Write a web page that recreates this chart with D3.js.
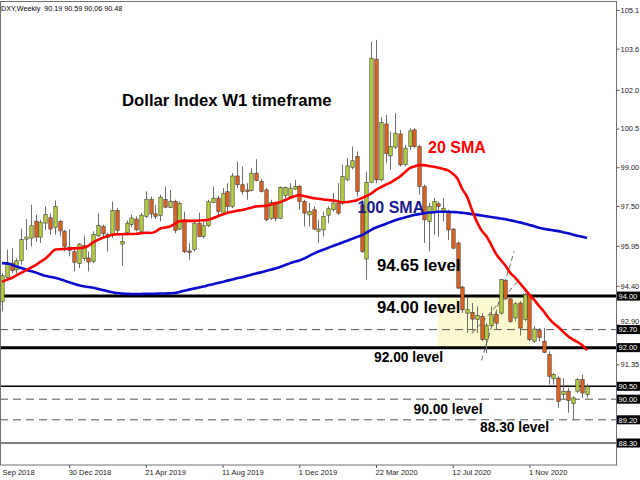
<!DOCTYPE html>
<html><head><meta charset="utf-8">
<script src="https://cdn.jsdelivr.net/npm/d3@7"></script>
<style>body{margin:0;background:#fff}svg{display:block}</style>
</head><body><svg id="c" width="640" height="480"></svg>
<script>
// ---------- DATA ----------
const opens  = [93.80,94.73,95.28,95.02,95.38,96.21,96.25,96.91,96.29,96.83,97.04,96.66,96.90,96.50,95.90,95.72,95.26,95.45,95.48,95.35,96.34,96.70,96.38,96.34,97.32,96.02,96.47,96.77,96.99,96.51,97.09,97.76,97.19,97.12,97.74,97.43,97.67,96.60,96.96,95.75,95.80,96.83,96.31,96.73,97.63,97.80,97.22,98.05,97.48,98.66,98.32,98.12,98.10,98.77,98.45,98.12,97.02,97.61,97.02,97.90,97.87,98.15,98.25,97.67,97.15,97.35,96.52,96.57,97.14,97.35,97.61,97.61,98.51,99.00,99.42,97.54,95.44,98.41,103.19,98.51,100.68,99.44,99.78,100.29,99.10,99.80,100.45,99.80,98.25,96.90,97.25,97.58,97.28,97.24,96.60,96.06,94.35,93.34,93.37,93.09,93.21,92.31,92.85,93.28,93.34,94.61,93.89,93.15,93.73,93.09,94.05,92.25,92.66,92.25,91.73,90.79,90.82,90.18,90.31,89.83,90.31,90.76,90.19];
const highs  = [94.89,95.80,95.85,95.47,96.62,96.99,97.54,97.16,96.96,97.48,97.22,97.71,96.96,96.57,96.60,95.80,96.06,96.34,95.73,96.51,97.22,96.77,96.44,97.67,97.41,96.38,96.93,97.16,97.09,97.22,98.06,97.86,97.54,97.93,98.25,98.12,97.74,97.67,97.28,96.05,96.90,97.24,96.90,97.74,98.25,97.89,98.19,98.38,98.77,99.22,99.03,98.38,98.96,99.31,98.54,98.19,97.74,97.67,98.25,98.25,98.38,98.51,98.32,97.74,97.61,97.48,96.96,97.28,97.48,98.00,98.38,99.09,99.35,99.80,99.61,97.74,98.83,103.87,103.94,100.94,101.03,100.38,101.10,100.45,99.87,100.51,100.51,99.87,98.32,97.61,97.80,97.67,97.80,97.35,96.64,96.12,94.40,93.92,93.73,93.60,93.34,92.96,93.60,93.40,94.66,94.66,93.92,93.76,93.80,94.12,94.12,92.83,92.76,92.76,91.86,91.02,90.89,90.82,90.44,90.11,90.82,90.95,90.59];
const lows   = [93.41,94.63,94.89,94.87,95.22,95.80,95.93,96.12,96.06,96.57,96.38,96.38,96.32,95.73,95.54,94.96,95.09,95.36,94.96,95.28,96.29,96.32,95.73,96.25,96.44,95.18,96.34,96.68,96.51,96.47,97.03,97.02,96.99,96.90,97.41,97.41,96.44,96.57,95.67,95.41,95.73,96.29,96.24,96.68,97.61,97.15,97.15,97.19,97.41,98.19,97.93,97.74,98.06,98.45,98.02,96.90,96.96,96.90,96.99,97.80,97.80,98.12,97.35,96.70,96.70,96.57,96.06,96.31,96.83,97.28,97.15,97.54,98.45,98.92,97.87,95.67,94.63,98.38,98.38,98.45,99.16,98.90,99.70,99.03,99.03,99.67,99.74,97.93,96.06,95.73,96.38,96.31,96.90,96.18,95.82,94.27,93.34,92.57,92.63,92.57,92.25,91.79,92.76,92.70,93.28,93.86,92.96,93.02,92.47,93.02,92.25,92.18,92.25,91.79,90.57,90.57,89.66,89.98,89.47,89.21,90.24,90.05,90.06];
const closes = [94.79,95.22,95.00,95.37,96.19,96.29,96.73,96.29,96.86,97.16,96.60,97.48,96.53,95.93,95.77,95.31,96.02,95.97,95.32,96.40,96.74,96.42,96.29,97.32,96.55,96.12,96.83,97.03,96.57,97.14,97.76,97.19,97.09,97.84,97.45,97.68,96.55,97.60,95.72,95.70,96.83,96.31,96.73,97.66,97.80,97.28,97.99,97.48,98.66,98.32,98.06,98.06,98.77,98.48,98.06,96.96,97.63,97.02,98.22,98.21,98.19,98.25,97.67,97.22,97.28,96.60,96.60,97.09,97.39,97.61,97.22,98.64,99.05,99.25,98.06,95.73,98.41,103.23,98.51,100.73,99.52,99.80,100.32,99.09,99.74,100.41,99.80,98.25,96.96,97.48,97.67,97.48,97.41,96.57,95.86,94.31,93.47,93.47,93.11,93.24,92.31,92.85,93.28,92.95,94.64,93.89,93.02,93.70,92.76,94.05,92.31,92.72,92.40,91.82,90.89,90.95,89.92,90.31,89.95,90.05,90.76,90.24,90.48];
const sma20  = [94.55,94.63,94.70,94.80,94.90,95.00,95.10,95.20,95.33,95.45,95.62,95.80,95.82,95.83,95.84,95.85,95.86,95.88,95.95,96.08,96.18,96.26,96.32,96.38,96.40,96.40,96.41,96.41,96.42,96.44,96.46,96.45,96.50,96.62,96.66,96.70,96.80,96.90,96.92,96.92,96.92,96.93,96.94,96.96,97.02,97.10,97.16,97.23,97.27,97.31,97.34,97.38,97.43,97.48,97.49,97.50,97.54,97.60,97.64,97.72,97.80,97.87,97.92,97.88,97.84,97.80,97.78,97.75,97.73,97.71,97.68,97.64,97.65,97.68,97.72,97.80,97.88,97.98,98.12,98.22,98.32,98.40,98.52,98.64,98.80,98.96,99.03,99.08,99.08,99.05,99.02,98.98,98.93,98.88,98.75,98.55,98.15,97.85,97.35,96.90,96.55,96.33,96.00,95.65,95.40,95.18,94.90,94.72,94.50,94.28,94.05,93.85,93.62,93.40,93.15,92.95,92.80,92.62,92.45,92.32,92.22,92.10,91.90];
const sma100 = [95.28,95.27,95.22,95.15,95.09,95.02,94.97,94.92,94.85,94.79,94.75,94.71,94.66,94.60,94.54,94.48,94.42,94.38,94.35,94.32,94.28,94.24,94.19,94.15,94.12,94.10,94.09,94.08,94.08,94.08,94.09,94.09,94.09,94.10,94.10,94.11,94.12,94.16,94.21,94.25,94.29,94.33,94.37,94.42,94.46,94.51,94.55,94.60,94.64,94.69,94.73,94.78,94.83,94.88,94.92,94.97,95.02,95.07,95.13,95.20,95.27,95.33,95.38,95.46,95.55,95.65,95.73,95.80,95.87,95.94,96.01,96.08,96.15,96.22,96.29,96.36,96.46,96.57,96.66,96.73,96.80,96.87,96.94,97.00,97.05,97.10,97.15,97.18,97.21,97.24,97.25,97.27,97.27,97.27,97.26,97.25,97.23,97.21,97.18,97.15,97.13,97.10,97.07,97.04,97.01,96.98,96.94,96.90,96.86,96.81,96.76,96.71,96.65,96.61,96.58,96.55,96.52,96.48,96.44,96.39,96.34,96.30,96.25];
const yTickValues = [105.1,103.6,102.0,100.5,99.0,97.5,95.95,94.4,92.9,91.35];
const yTickLabels = ["105.1","103.6","102.0","100.5","99.00","97.50","95.95","94.40","92.90","91.35"];
const xTickIndex  = [-2,14,30,46,62,78,94,110];
const xTickLabels = ["Sep 2018","30 Dec 2018","21 Apr 2019","11 Aug 2019","1 Dec 2019","22 Mar 2020","12 Jul 2020","1 Nov 2020"];
const levels      = [94.00,92.70,92.00,90.50,90.00,89.20,88.30];
const levelTags   = ["94.00","92.70","92.00","90.50","90.00","89.20","88.30"];
const zoneIdx     = [90.9,110.1];
const zonePrice   = [92.00,94.00];
const trendA      = [[100.0,91.50],[106.8,95.73]];
const trendB      = [[98.0,92.54],[108.0,94.67]];
const headerText  = "DXY,Weekly  90.19 90.59 90.06 90.48";

// ---------- CHART ----------
const svg = d3.select("#c");
const W=640,H=480, plotR=616.5, plotB=465;
svg.append("rect").attr("width",W).attr("height",H).attr("fill","#fff");
const N = closes.length;
const x = d3.scaleLinear().domain([0,N-1]).range([2,587]);
const y = d3.scaleLinear().domain([88.30,105.1]).range([443,10]);

svg.append("defs").append("clipPath").attr("id","plot")
  .append("rect").attr("x",0).attr("y",1.5).attr("width",plotR).attr("height",plotB-1.5);
const g = svg.append("g").attr("clip-path","url(#plot)");

// yellow zone
g.append("rect")
  .attr("x",x(zoneIdx[0])).attr("width",x(zoneIdx[1])-x(zoneIdx[0]))
  .attr("y",y(zonePrice[1])).attr("height",y(zonePrice[0])-y(zonePrice[1]))
  .attr("fill","#fbf9cf");

// level lines
const levelStyle = {"94.00":{w:3,d:null},"92.70":{w:1,d:"8,5",c:"#555"},"92.00":{w:3,d:null},
  "90.50":{w:1.6,d:null},"90.00":{w:1,d:"8,5",c:"#555"},"89.20":{w:1,d:"8,5",c:"#555"},"88.30":{w:1.2,d:null}};
levels.forEach((v,i)=>{
  const s=levelStyle[levelTags[i]];
  g.append("line").attr("x1",0).attr("x2",plotR).attr("y1",y(v)).attr("y2",y(v))
   .attr("stroke",s.c||"#000").attr("stroke-width",s.w).attr("stroke-dasharray",s.d);
});

// trend lines
[trendA,trendB].forEach(t=>{
  g.append("line").attr("x1",x(t[0][0])).attr("y1",y(t[0][1])).attr("x2",x(t[1][0])).attr("y2",y(t[1][1]))
   .attr("stroke","#444").attr("stroke-width",0.8).attr("stroke-dasharray","5,3");
});

// candles
const idx = d3.range(N);
const cg = g.append("g");
cg.selectAll("line.w").data(idx).join("line").attr("class","w")
  .attr("x1",i=>Math.round(x(i))+0.5).attr("x2",i=>Math.round(x(i))+0.5)
  .attr("y1",i=>y(highs[i])).attr("y2",i=>y(lows[i]))
  .attr("stroke","#6e6e6e").attr("stroke-width",1);
cg.selectAll("rect.b").data(idx).join("rect").attr("class","b")
  .attr("x",i=>Math.round(x(i))-1.2).attr("width",3.4)
  .attr("y",i=>y(Math.max(opens[i],closes[i])))
  .attr("height",i=>Math.max(1,Math.abs(y(opens[i])-y(closes[i]))))
  .attr("fill",i=>closes[i]>=opens[i]?"#b6cf3a":"#e2621e")
  .attr("stroke","#3a3a3a").attr("stroke-width",0.6);

// SMAs
const line = d3.line().x((d,i)=>x(i)).y(d=>y(d)).curve(d3.curveMonotoneX);
g.append("path").datum(sma100).attr("d",line).attr("fill","none").attr("stroke","#0a0ad0").attr("stroke-width",2.6);
g.append("path").datum(sma20).attr("d",line).attr("fill","none").attr("stroke","#ff0000").attr("stroke-width",2.6);

// frame
svg.append("rect").attr("x",0.5).attr("y",1.5).attr("width",plotR-0.5).attr("height",plotB-1.5)
  .attr("fill","none").attr("stroke","#707070").attr("stroke-width",1);

// y axis
const yAxis = d3.axisRight(y).tickValues(yTickValues).tickSize(3).tickPadding(1)
  .tickFormat((d,i)=>yTickLabels[i]);
const ya = svg.append("g").attr("transform",`translate(${plotR},0)`).call(yAxis);
ya.select(".domain").remove();
ya.selectAll("line").attr("stroke","#555");
ya.selectAll("text").attr("font-family","Liberation Sans, Arial, sans-serif").attr("font-size",7.5).attr("fill","#222");
// 92.90 sits just above the 92.70 tag, partly hidden as in the original
ya.selectAll(".tick").filter(d=>d===92.9).select("text").attr("dy","-0.15em");

// price tags
levels.forEach((v,i)=>{
  svg.append("rect").attr("x",617).attr("y",y(v)-4.5).attr("width",23).attr("height",9).attr("fill","#000");
  svg.append("text").attr("x",618.5).attr("y",y(v)+2.7).text(levelTags[i])
    .attr("font-family","Liberation Sans, Arial, sans-serif").attr("font-size",7.5).attr("fill","#fff");
});

// x axis
const xAxis = d3.axisBottom(x).tickValues(xTickIndex).tickSize(3).tickPadding(2)
  .tickFormat((d,i)=>xTickLabels[i]);
const xa = svg.append("g").attr("transform",`translate(0,${plotB})`).call(xAxis);
xa.select(".domain").remove();
xa.selectAll("line").attr("stroke","#555");
xa.selectAll("text").attr("text-anchor","start").attr("dx",-1)
  .attr("font-family","Liberation Sans, Arial, sans-serif").attr("font-size",7.5).attr("fill","#222");
// first label: its date is cut at the chart's left edge, keep the visible part inside
xa.selectAll(".tick").filter(d=>d===xTickIndex[0]).select("text").attr("dx",x(0)-x(-2)+0);

// header
svg.append("text").attr("x",1).attr("y",11).text(headerText)
  .attr("font-family","Liberation Sans, Arial, sans-serif").attr("font-size",7.2).attr("fill","#000")
  .attr("xml:space","preserve").style("white-space","pre");

// annotations
const bold = "Liberation Sans, Arial, sans-serif";
const ann = [
  {t:"Dollar Index W1 timeframe",x:122,y:105.5,s:16.7,c:"#000"},
  {t:"20 SMA",x:428,y:153.3,s:16,c:"#ff0000"},
  {t:"100 SMA",x:357.5,y:212.5,s:16,c:"#1a1a8c"},
  {t:"94.65 level",x:377,y:271,s:16.7,c:"#000"},
  {t:"94.00 level",x:377,y:312.7,s:16.7,c:"#000"},
  {t:"92.00 level",x:374,y:362,s:13.8,c:"#000"},
  {t:"90.00 level",x:413.5,y:414,s:13.8,c:"#000"},
  {t:"88.30 level",x:480,y:432.3,s:13.8,c:"#000"}
];
ann.forEach(a=>svg.append("text").attr("x",a.x).attr("y",a.y).text(a.t)
  .attr("font-family",bold).attr("font-weight","bold").attr("font-size",a.s).attr("fill",a.c));
</script></body></html>
